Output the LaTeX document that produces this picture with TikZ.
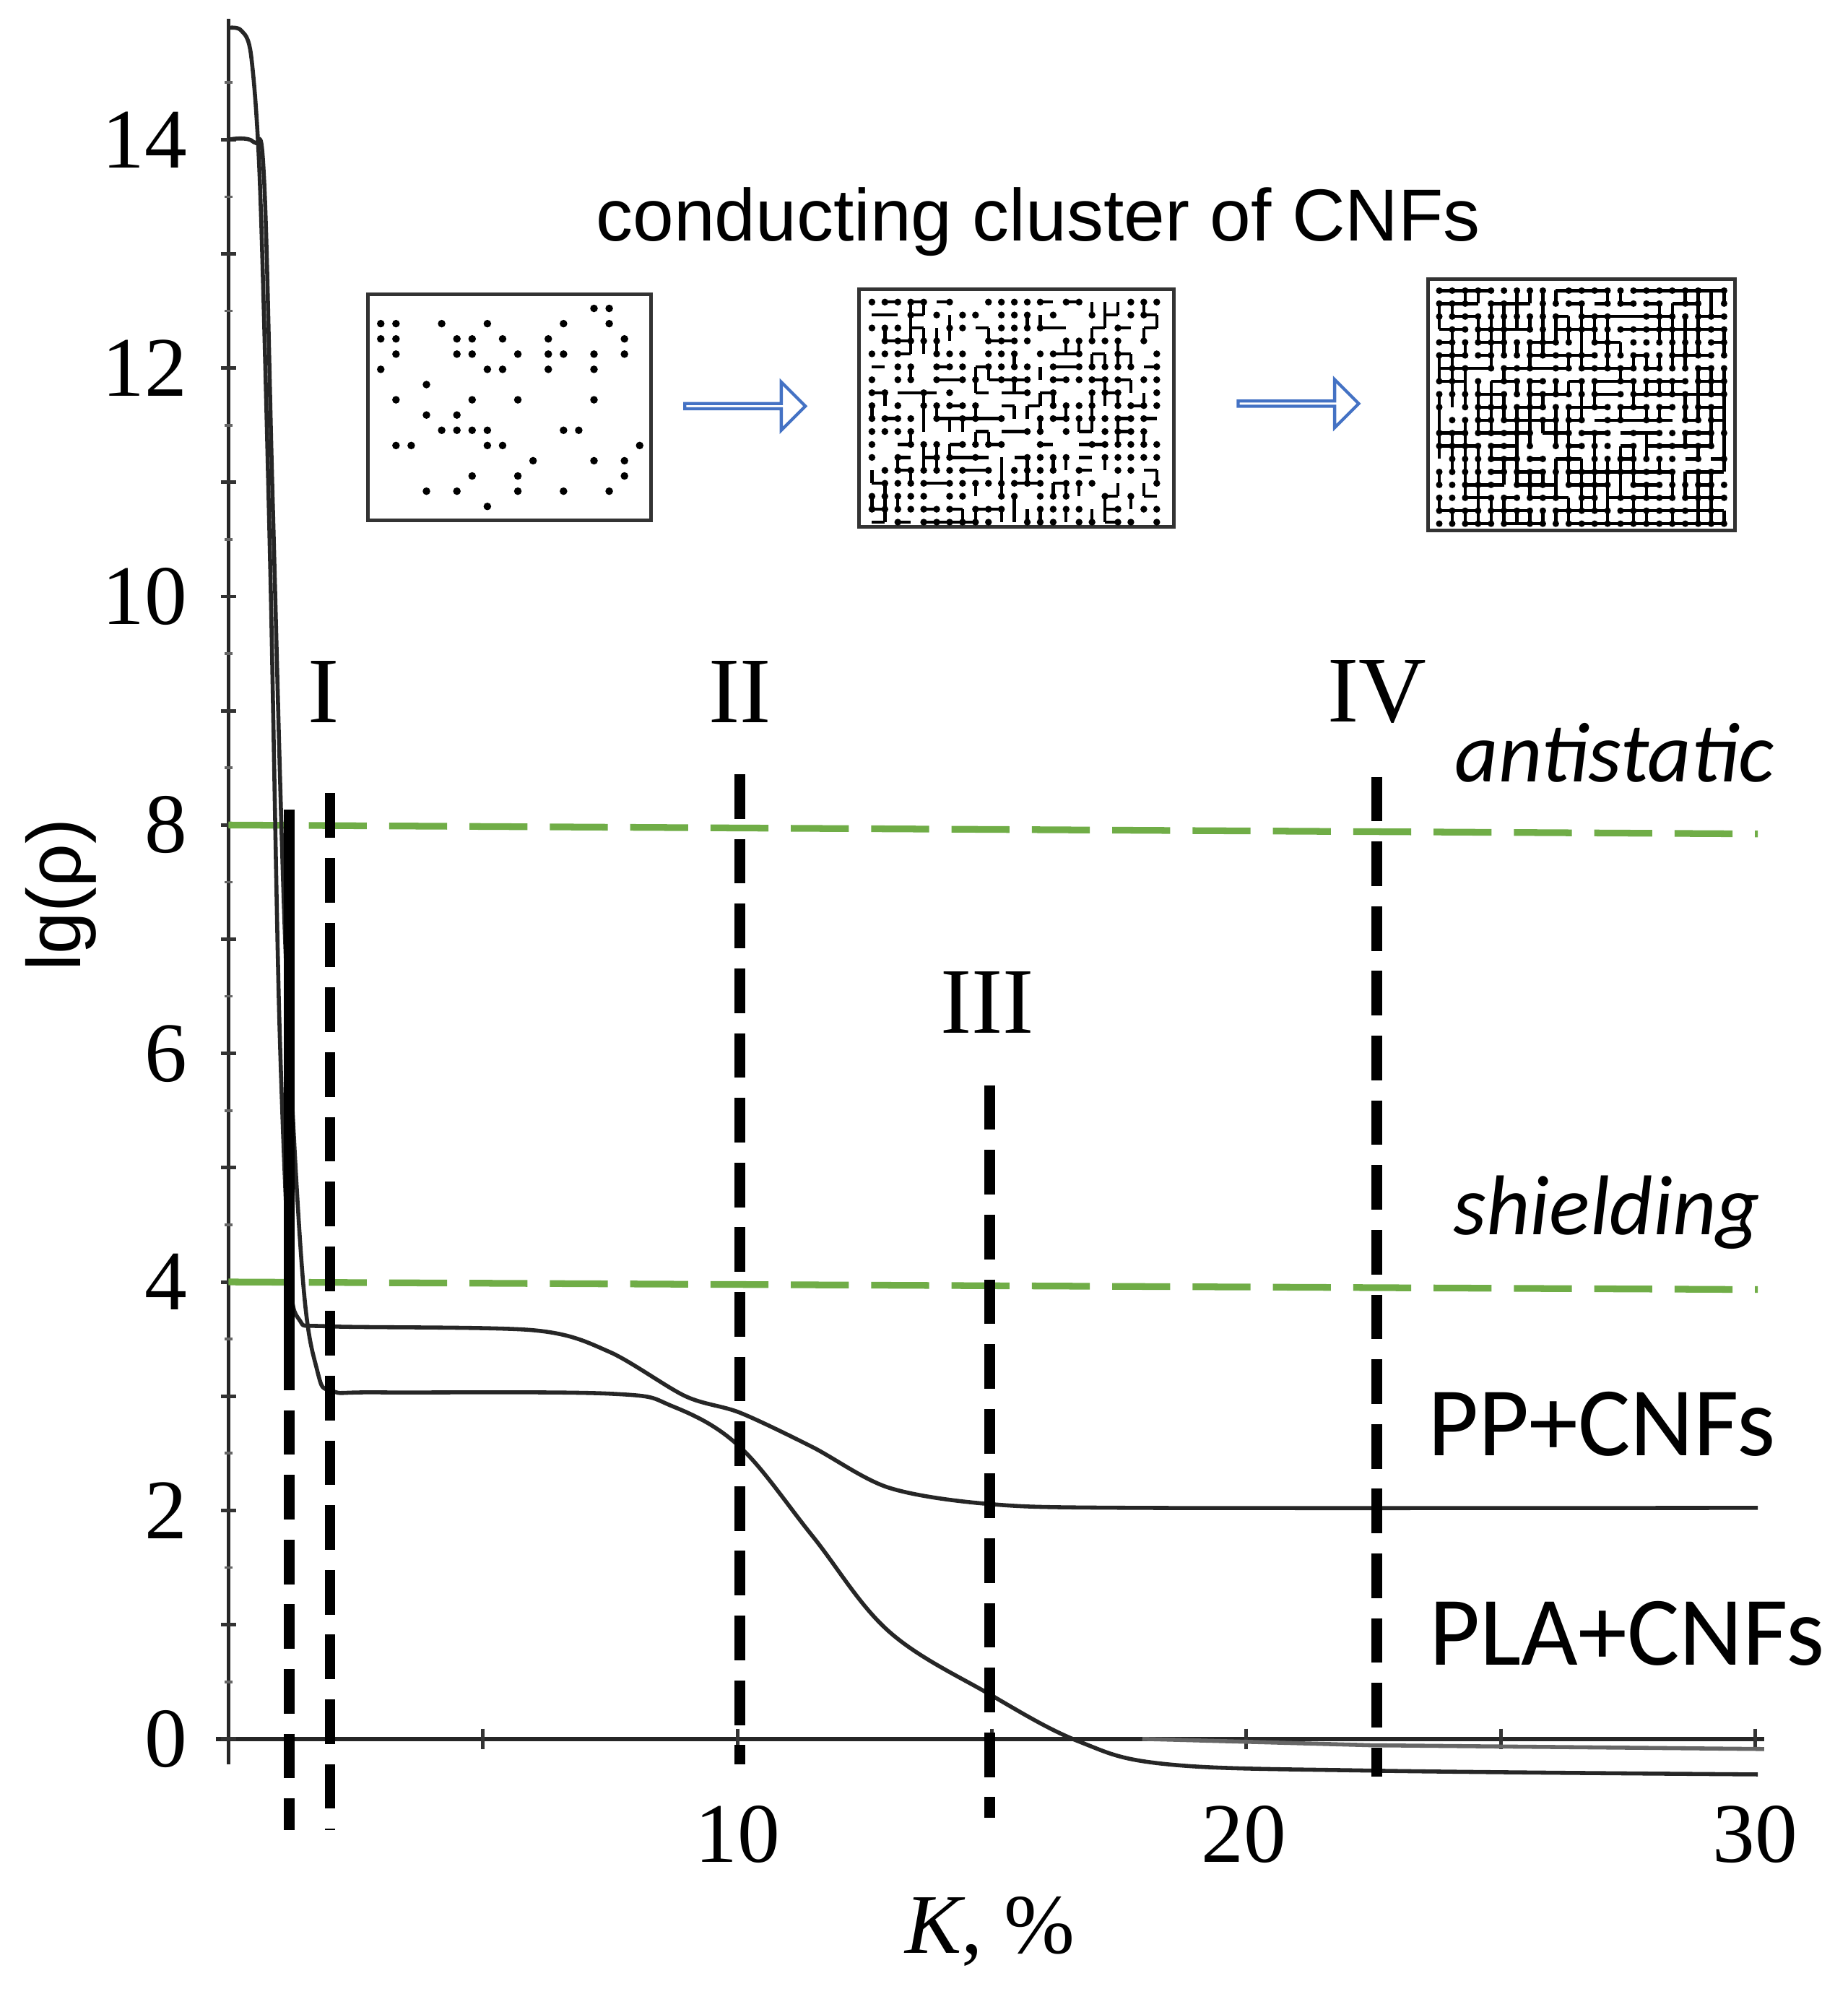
\documentclass[tikz,border=0pt]{standalone}
\usepackage{fontspec}
\setmainfont{Liberation Serif}
\newfontfamily\carfont{Carlito}
\newfontfamily\arifont{Liberation Sans}
\usetikzlibrary{shapes.arrows}
\begin{document}
\begin{tikzpicture}[x=0.01cm,y=-0.01cm,
  vdash/.style={black,line width=2.4pt,dash pattern=on 10pt off 4.5pt},
  gdash/.style={line width=1.5pt,dash pattern=on 13pt off 5pt,color={rgb,255:red,112;green,173;blue,71}},
  curve/.style={black!85,line width=0.9pt},
  num/.style={font=\fontsize{19}{19}\selectfont},
  rom/.style={font=\fontsize{21}{21}\selectfont},
  lab/.style={font=\carfont\fontsize{19}{19}\selectfont},
  box/.style={draw=black!80,line width=0.8pt},
  harrow/.style={single arrow,draw={rgb,255:red,68;green,114;blue,196},line width=0.7pt,fill=white,minimum height=0.95cm,minimum width=0.38cm,single arrow head extend=0.1cm,inner sep=0pt}]
\useasboundingbox (0,0) rectangle (1456,1571);
\fill[white] (0,0) rectangle (1456,1571);
% axes
\draw[black!85,line width=0.9pt] (180,15) -- (180,1390);
\draw[black!85,line width=0.9pt] (170,1370) -- (1390,1370);
\foreach \v in {0,...,14} \draw[black!80,line width=0.8pt] (174,1370-90*\v) -- (186,1370-90*\v);
\foreach \v in {0.5,1.5,...,14.5} \draw[black!60,line width=0.6pt] (177,1370-90*\v) -- (183,1370-90*\v);
\foreach \k in {5,10,...,30} \draw[black!80,line width=0.8pt] (180+40.1*\k,1362) -- (180+40.1*\k,1378);
\foreach \v/\t in {0/0,2/2,4/4,6/6,8/8,10/10,12/12,14/14}
  \node[num,anchor=east] (y\v) at (160,1370-90*\v) {\t};
\node[num] (x10) at (581,1445) {10};
\node[num] (x20) at (980,1445) {20};
\node[num] (x30) at (1383,1445) {30};
\node[num] (xl) at (780,1522) {\textit{K}, \%};
\node[font=\arifont\fontsize{17}{17}\selectfont,rotate=90] (yl) at (48,705) {lg(ρ)};
% green dashed
\draw[gdash] (180,650) -- (1385,657);
\draw[gdash] (180,1010) -- (1385,1016);
% curves
\draw[curve] plot[smooth,tension=0.5] coordinates {(180,22) (190,24) (198,45) (205,150) (213,450) (220,800) (228,1000) (236,1040) (260,1045) (420,1048) (480,1065) (540,1100) (583,1113) (640,1140) (700,1172) (780,1185) (900,1188) (1385,1188)};
\draw[curve] plot[smooth,tension=0.6] coordinates {(180,110) (200,112) (208,140) (215,400) (225,750) (238,1000) (250,1080) (262,1096) (300,1097) (480,1098) (530,1108) (583,1140) (640,1210) (700,1285) (780,1335) (850,1372) (920,1390) (1080,1395) (1385,1398)};
\draw[black!60,line width=0.9pt] (900,1370) -- (1080,1375) -- (1390,1378);
% vertical lines
\draw[black,line width=2.4pt] (228,638) -- (228,1060);
\draw[vdash] (228,1060) -- (228,1442);
\draw[vdash] (260,625) -- (260,1442);
\draw[vdash] (583,610) -- (583,1390);
\draw[vdash] (780,855) -- (780,1432);
\draw[vdash] (1085,612) -- (1085,1400);
% roman numerals
\node[rom] (r1) at (255,545) {I};
\node[rom] (r2) at (583,545) {II};
\node[rom] (r3) at (778,790) {III};
\node[rom] (r4) at (1085,545) {IV};
% labels
\node[lab] (anti) at (1272,593) {\itshape antistatic};
\node[lab] (shield) at (1266,955) {\itshape shielding};
\node[lab,font=\carfont\fontsize{22}{22}\selectfont] (pp) at (1262,1122) {PP+CNFs};
\node[lab,font=\carfont\fontsize{22}{22}\selectfont] (pla) at (1282,1287) {PLA+CNFs};
\node[font=\arifont\fontsize{16.5}{16.5}\selectfont] (title) at (818,175) {conducting cluster of CNFs};
% grid pictures
\pgfmathsetseed{7}
\draw[box] (290,232) rectangle (513,410);
\foreach \i in {0,...,17} \foreach \j in {0,...,13} {
  \pgfmathsetmacro\r{rnd}
  \ifdim\r pt<0.2pt \fill (300+12*\i,243+12*\j) circle (3); \fi }
\draw[box] (677,228) rectangle (925,415);
\foreach \i in {0,...,22} \foreach \j in {0,...,17} {
  \pgfmathsetmacro\r{rnd}
  \ifdim\r pt<0.6pt \fill (687+10.2*\i,238+10.2*\j) circle (2.7); \fi
  \pgfmathsetmacro\s{rnd}
  \ifdim\s pt<0.3pt \ifnum\i<22 \draw[line width=0.7pt] (687+10.2*\i,238+10.2*\j) -- ++(10.2,0); \fi \fi
  \pgfmathsetmacro\s{rnd}
  \ifdim\s pt<0.3pt \ifnum\j<17 \draw[line width=0.7pt] (687+10.2*\i,238+10.2*\j) -- ++(0,10.2); \fi \fi }
\draw[box] (1125,220) rectangle (1367,418);
\foreach \i in {0,...,22} \foreach \j in {0,...,18} {
  \pgfmathsetmacro\r{rnd}
  \ifdim\r pt<0.85pt \fill (1134+10.2*\i,229+10.2*\j) circle (2.6); \fi
  \pgfmathsetmacro\s{rnd}
  \ifdim\s pt<0.6pt \ifnum\i<22 \draw[line width=0.7pt] (1134+10.2*\i,229+10.2*\j) -- ++(10.2,0); \fi \fi
  \pgfmathsetmacro\s{rnd}
  \ifdim\s pt<0.6pt \ifnum\j<18 \draw[line width=0.7pt] (1134+10.2*\i,229+10.2*\j) -- ++(0,10.2); \fi \fi }
\node[harrow] (a1) at (586,320) {};
\node[harrow] (a2) at (1022,318) {};
\end{tikzpicture}
\end{document}
